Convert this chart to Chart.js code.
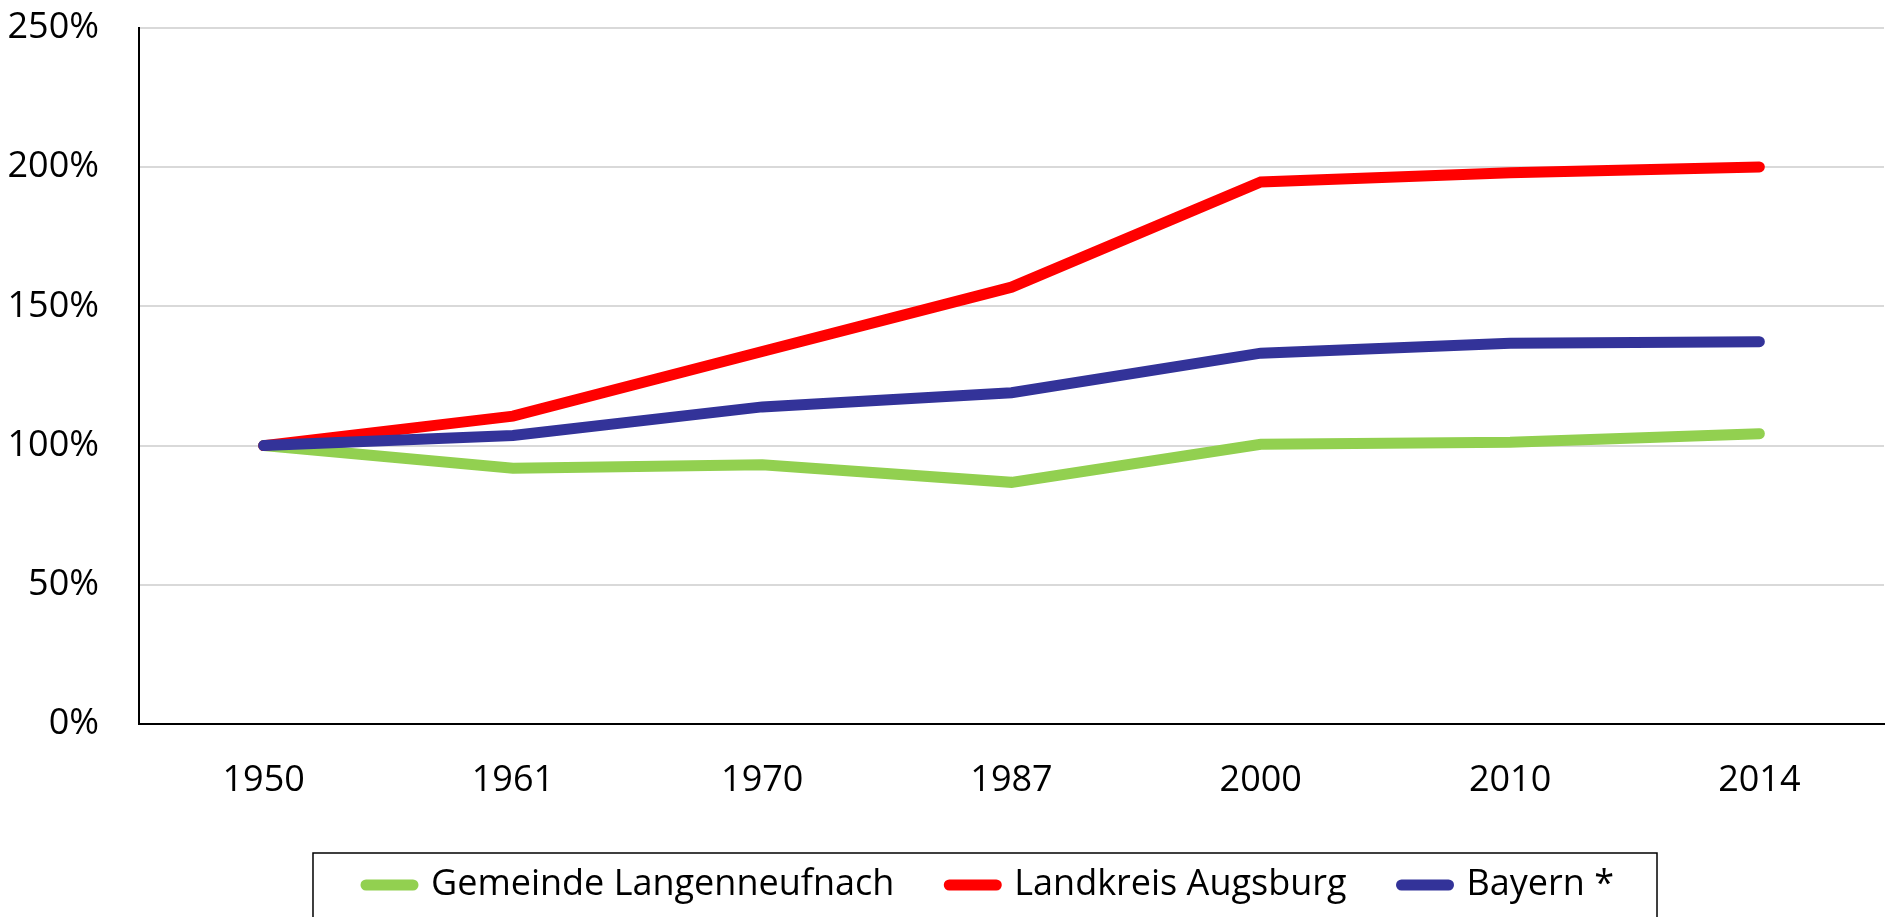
<!DOCTYPE html>
<html>
<head>
<meta charset="utf-8">
<script src="https://cdn.jsdelivr.net/npm/chart.js@4/dist/chart.umd.min.js"></script>
<style>
  html, body { margin: 0; padding: 0; background: #fff; }
  #wrap { width: 1892px; height: 917px; }
</style>
</head>
<body>
<div id="wrap"><canvas id="grafico" width="1892" height="917"></canvas></div>
<script>
// Jahre (Kategorien)
const jahre = ['1950', '1961', '1970', '1987', '2000', '2010', '2014'];

// Bevölkerungsentwicklung, 1950 = 100 %
const gemeinde = [100, 91.9, 93.1, 86.8, 100.5, 101.2, 104.3];
const landkreis = [100, 110.6, 133.8, 156.9, 194.7, 198.0, 200.1];
const bayern = [100, 103.6, 113.9, 119.0, 133.2, 136.8, 137.3];

const namen = ['Gemeinde Langenneufnach', 'Landkreis Augsburg', 'Bayern *'];
const farben = ['#92D050', '#FF0000', '#333399'];

// Y-Achse
const yMin = 0;
const yMax = 250;
const yStep = 50;

Chart.defaults.font.family = "'Open Sans', sans-serif";
Chart.defaults.font.size = 36;
Chart.defaults.color = '#000';

const LEGENDE_MITTE = 990; // im Original sitzt die Legende etwas rechts der Mitte

// Legende verschieben und mit Rahmen versehen (wie im Original)
const legendeRahmen = {
    id: 'legendeRahmen',
    afterLayout(chart) {
        const lg = chart.legend;
        const dx = LEGENDE_MITTE - (lg.left + lg.right) / 2;
        lg.left += dx;
        lg.right += dx;
    },
    afterDraw(chart) {
        const lg = chart.legend;
        const pad = lg.options.labels.padding;
        const lw = lg.lineWidths[0];
        const start = (lg.left + pad + lg.right - lw) / 2;
        const ende = start + lw - pad;
        const mitteY = lg.top + pad + 18;
        const ctx = chart.ctx;
        ctx.save();
        ctx.strokeStyle = '#000';
        ctx.lineWidth = 1.5;
        ctx.strokeRect(start - 53, mitteY - 32, ende - start + 96, 200);
        ctx.restore();
    }
};

function linie(name, daten, farbe, reihenfolge) {
    return {
        label: name,
        data: daten,
        borderColor: farbe,
        backgroundColor: farbe,
        borderWidth: 11,
        borderCapStyle: 'round',
        borderJoinStyle: 'miter',
        pointRadius: 0,
        tension: 0,
        fill: false,
        order: reihenfolge
    };
}

new Chart(document.getElementById('grafico'), {
    type: 'line',
    data: {
        labels: jahre,
        datasets: [
            linie(namen[0], gemeinde, farben[0], 3),
            linie(namen[1], landkreis, farben[1], 2),
            linie(namen[2], bayern, farben[2], 1)
        ]
    },
    options: {
        responsive: false,
        animation: false,
        layout: {
            padding: { top: 28, right: 8, bottom: 4, left: 0 }
        },
        plugins: {
            tooltip: { enabled: false },
            legend: {
                position: 'bottom',
                labels: {
                    usePointStyle: true,
                    pointStyle: 'line',
                    pointStyleWidth: 47,
                    padding: 55,
                    font: { size: 36 },
                    sort: (a, b) => a.datasetIndex - b.datasetIndex,
                    generateLabels: (chart) => {
                        const items = Chart.defaults.plugins.legend.labels.generateLabels(chart);
                        items.forEach((it) => {
                            it.lineCap = 'round';
                            it.lineWidth = 11;
                        });
                        return items;
                    }
                }
            }
        },
        scales: {
            x: {
                offset: true,
                grid: { display: false, drawTicks: false },
                border: { display: true, color: '#000', width: 2 },
                ticks: { padding: 35, font: { size: 36 } },
                afterFit: (s) => { s.height = 88; }
            },
            y: {
                min: yMin,
                max: yMax,
                ticks: {
                    stepSize: yStep,
                    padding: 0,
                    font: { size: 36 },
                    callback: (v) => v + '%'
                },
                grid: {
                    color: '#D9D9D9',
                    lineWidth: 2,
                    drawTicks: true,
                    tickLength: 40,
                    tickColor: 'rgba(0,0,0,0)'
                },
                border: { display: true, color: '#000', width: 2 },
                afterFit: (s) => { s.width = 139; }
            }
        }
    },
    plugins: [legendeRahmen]
});
</script>
</body>
</html>
